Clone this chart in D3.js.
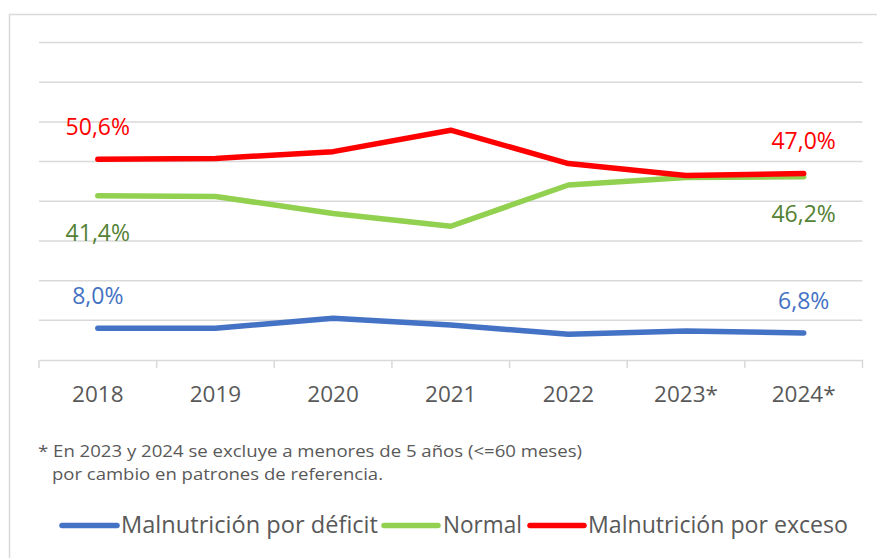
<!DOCTYPE html>
<html>
<head>
<meta charset="utf-8">
<script src="https://cdn.jsdelivr.net/npm/d3@7"></script>
<style>
  html, body { margin: 0; padding: 0; background: #fff; }
  svg { display: block; }
</style>
</head>
<body>
<svg id="chart" width="877" height="558"></svg>
<script>
const years = ["2018", "2019", "2020", "2021", "2022", "2023*", "2024*"];
const deficit = [8.0, 8.0, 10.5, 8.8, 6.5, 7.3, 6.8];
const normal = [41.4, 41.2, 36.9, 33.7, 44.1, 46.0, 46.2];
const exceso = [50.6, 50.8, 52.5, 57.9, 49.5, 46.5, 47.0];
const yTicks = [0, 10, 20, 30, 40, 50, 60, 70, 80];
const seriesNames = ["Malnutrición por déficit", "Normal", "Malnutrición por exceso"];
const footnote = ["* En 2023 y 2024 se excluye a menores de 5 años (<=60 meses)", "por cambio en patrones de referencia."];

const series = [
  { name: seriesNames[0], values: deficit, color: "#4472C4", label: "#4472C4" },
  { name: seriesNames[1], values: normal, color: "#92D050", label: "#548235" },
  { name: seriesNames[2], values: exceso, color: "#FF0000", label: "#FF0000" }
];

const svg = d3.select("#chart");
const font = "'Open Sans', sans-serif";

// outer chart border
svg.append("rect").attr("x", 9.5).attr("y", 14.5).attr("width", 900).attr("height", 600)
  .attr("fill", "none").attr("stroke", "#d9d9d9").attr("stroke-width", 1.5);

const mLeft = 39, mRight = 862.5, mTop = 42.5, mBottom = 360;
const x = d3.scaleBand().domain(years).range([mLeft, mRight]);
const y = d3.scaleLinear().domain([0, 80]).range([mBottom, mTop]);

// gridlines
svg.append("g").selectAll("line").data(yTicks.filter(d => d > 0)).join("line")
  .attr("x1", mLeft).attr("x2", mRight)
  .attr("y1", d => y(d)).attr("y2", d => y(d))
  .attr("stroke", "#d9d9d9").attr("stroke-width", 1.5);

// x axis
const xAxis = svg.append("g").attr("transform", `translate(0,${mBottom})`)
  .call(d3.axisBottom(x).tickSize(0).tickSizeOuter(0).tickPadding(26));
xAxis.select(".domain").attr("stroke", "#d9d9d9").attr("stroke-width", 1.5);
xAxis.selectAll("text").attr("font-family", font).attr("font-size", 22.5).attr("fill", "#595959");
// ticks at band boundaries
const bounds = years.map(d => x(d)).concat([mRight]);
xAxis.selectAll(".bound").data(bounds).join("line").attr("class", "bound")
  .attr("x1", d => d).attr("x2", d => d).attr("y1", 0).attr("y2", 8)
  .attr("stroke", "#d9d9d9").attr("stroke-width", 1.5);

const cx = d => x(d) + x.bandwidth() / 2;
const line = d3.line().x((v, i) => cx(years[i])).y(v => y(v));

series.forEach(s => {
  svg.append("path").datum(s.values).attr("d", line)
    .attr("fill", "none").attr("stroke", s.color).attr("stroke-width", 5.5)
    .attr("stroke-linecap", "round").attr("stroke-linejoin", "round");
});

// data labels (first and last points)
const fmt = v => v.toFixed(1).replace(".", ",") + "%";
const labelPos = [
  { s: 0, above: true }, { s: 1, above: false }, { s: 2, above: true }
];
labelPos.forEach(p => {
  const s = series[p.s];
  [0, years.length - 1].forEach(i => {
    const v = s.values[i];
    svg.append("text")
      .attr("x", cx(years[i]))
      .attr("y", y(v) + (p.above ? -24 : 45))
      .attr("text-anchor", "middle")
      .attr("font-family", font).attr("font-size", 23)
      .attr("fill", s.label)
      .text(fmt(v));
  });
});

// footnote
svg.append("text").attr("x", 38).attr("y", 457)
  .attr("font-family", font).attr("font-size", 16).attr("fill", "#595959")
  .attr("textLength", 544).attr("lengthAdjust", "spacingAndGlyphs")
  .text(footnote[0]);
svg.append("text").attr("x", 52).attr("y", 480)
  .attr("font-family", font).attr("font-size", 16).attr("fill", "#595959")
  .attr("textLength", 331).attr("lengthAdjust", "spacingAndGlyphs")
  .text(footnote[1]);

// legend
const legend = [
  { x1: 62, x2: 117, tx: 121, tl: 257 },
  { x1: 384, x2: 438, tx: 443, tl: 79 },
  { x1: 530, x2: 584, tx: 588, tl: 260 }
];
legend.forEach((l, i) => {
  svg.append("line").attr("x1", l.x1).attr("x2", l.x2).attr("y1", 525.5).attr("y2", 525.5)
    .attr("stroke", series[i].color).attr("stroke-width", 5.5).attr("stroke-linecap", "round");
  svg.append("text").attr("x", l.tx).attr("y", 533)
    .attr("font-family", font).attr("font-size", 23.5).attr("fill", "#595959")
    .attr("textLength", l.tl).attr("lengthAdjust", "spacingAndGlyphs")
    .text(series[i].name);
});
</script>
</body>
</html>
